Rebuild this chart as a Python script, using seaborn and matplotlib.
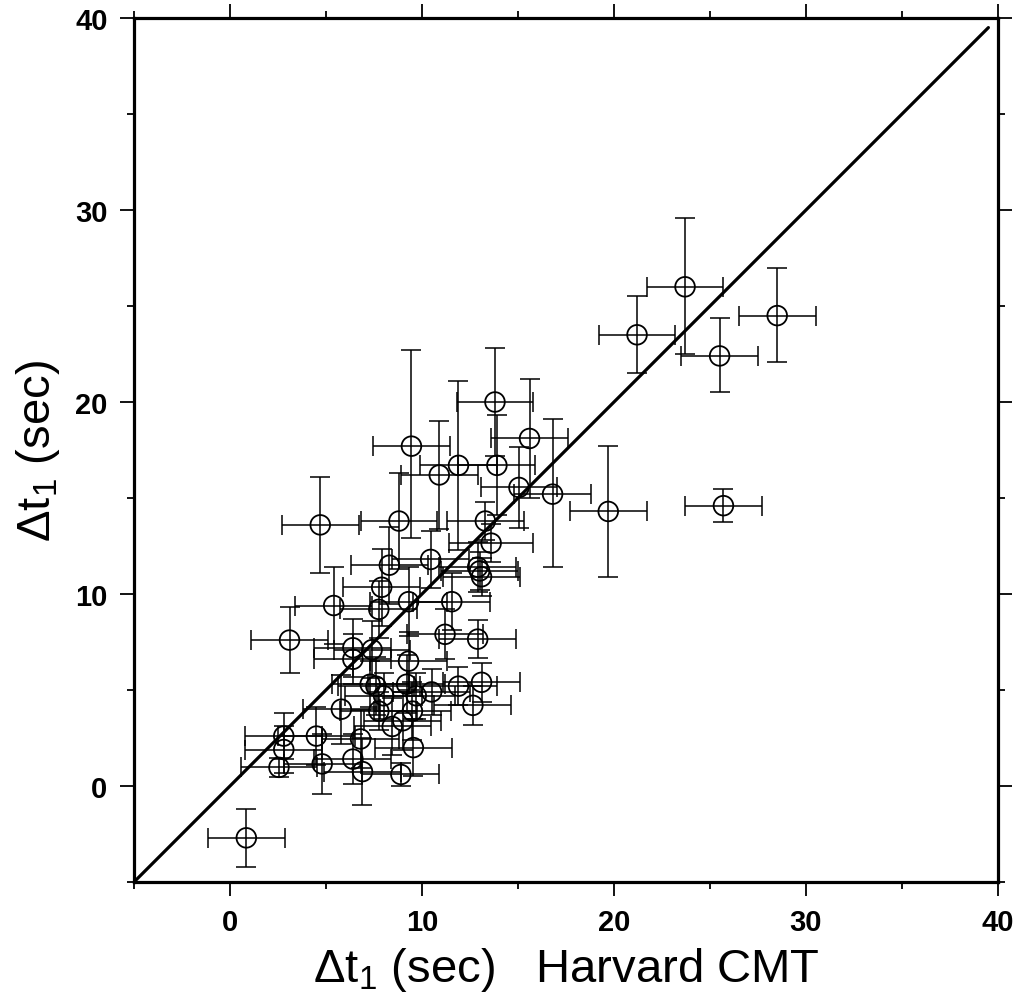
import numpy as np
import pandas as pd
import matplotlib
matplotlib.use("Agg")
import matplotlib.pyplot as plt
import seaborn as sns
from matplotlib.ticker import MultipleLocator

# ---- data ----
x_cmt = [23.7, 21.2, 25.5, 28.5, 25.7, 19.7, 16.8,
         13.8, 9.45, 15.6, 11.9, 13.9, 10.9, 4.7, 8.8, 15.05, 13.3, 13.6,
         10.45, 8.3, 12.9, 5.4, 3.1, 6.4, 6.4, 5.8, 7.4, 7.3, 13.0, 13.1,
         7.9, 11.55, 9.3, 7.75, 11.2, 12.9, 9.3, 11.9, 13.1, 12.65, 9.2,
         7.6, 9.7, 8.0, 7.75, 9.5, 10.5, 0.85, 2.8, 2.8, 2.55, 4.5, 4.8,
         6.4, 6.8, 6.9, 9.55, 8.9, 8.45, 9.0]
y_dt1 = [26.0, 23.5, 22.4, 24.5, 14.6, 14.3, 15.2,
         20.0, 17.7, 18.1, 16.7, 16.7, 16.2, 13.6, 13.8, 15.55, 13.8, 12.65,
         11.8, 11.5, 11.4, 9.4, 7.6, 7.2, 6.6, 4.0, 7.1, 5.3, 11.2, 10.9,
         10.35, 9.6, 9.6, 9.2, 7.9, 7.65, 6.5, 5.2, 5.4, 4.2, 5.3,
         5.2, 4.7, 4.7, 3.9, 3.9, 4.9, -2.7, 2.6, 1.9, 0.97, 2.6, 1.15,
         1.4, 2.45, 0.75, 2.0, 0.6, 3.1, 3.4]
x_err = [2.0, 2.0, 2.0, 2.0, 2.0, 2.0, 2.0,
         2.0, 2.0, 2.0, 2.0, 2.0, 2.0, 2.0, 2.0, 2.0, 2.0, 2.2,
         2.0, 2.0, 2.0, 2.0, 2.0, 2.0, 2.0, 2.0, 2.0, 2.0, 2.0, 2.0,
         2.0, 2.0, 2.0, 2.0, 2.0, 2.0, 2.0, 2.0, 2.0, 2.0, 2.0,
         2.0, 2.0, 2.0, 2.0, 2.0, 2.0, 2.0, 2.0, 2.0, 2.0, 2.0, 2.0,
         2.0, 2.0, 2.0, 2.0, 2.0, 2.0, 2.0]
y_err_lo = [3.5, 2.0, 1.9, 2.4, 0.85, 3.4, 3.8,
            2.8, 4.8, 3.1, 4.4, 2.6, 2.8, 2.5, 2.5, 2.1, 1.0, 1.0,
            1.5, 2.0, 1.3, 2.0, 1.7, 1.5, 1.3, 1.8, 1.5, 1.2, 1.0, 1.0,
            2.0, 1.5, 1.8, 1.5, 1.3, 1.0, 1.5, 1.0, 1.0, 1.0, 1.5,
            1.5, 1.2, 1.2, 1.0, 1.5, 1.2, 1.5, 1.2, 1.2, 0.5, 1.5, 1.55,
            1.3, 1.5, 1.75, 1.5, 0.6, 1.5, 1.5]
y_err_hi = [3.6, 2.0, 2.0, 2.5, 0.85, 3.4, 3.9,
            2.8, 5.0, 3.1, 4.4, 2.6, 2.8, 2.5, 2.5, 2.1, 1.0, 1.0,
            1.5, 2.0, 1.3, 2.0, 1.7, 1.5, 1.3, 1.8, 1.5, 1.2, 1.0, 1.0,
            2.0, 1.5, 1.8, 1.5, 1.3, 1.0, 1.5, 1.0, 1.0, 1.0, 1.5,
            1.5, 1.2, 1.2, 1.0, 1.5, 1.2, 1.5, 1.2, 1.2, 0.5, 1.5, 1.55,
            1.3, 1.5, 1.75, 1.5, 0.6, 1.5, 1.5]
line_xy = [-5, 39.5]
tick_values = [0, 10, 20, 30, 40]

sns.set_theme(style="ticks")
plt.rcParams["font.family"] = ["Liberation Sans", "DejaVu Sans"]
plt.rcParams["mathtext.fontset"] = "custom"
plt.rcParams["mathtext.rm"] = "Liberation Sans"
plt.rcParams["mathtext.it"] = "Liberation Sans"
for key in ["text.color", "axes.labelcolor", "xtick.color", "ytick.color",
            "axes.edgecolor"]:
    plt.rcParams[key] = "black"

df = pd.DataFrame({"x": x_cmt, "y": y_dt1})

fig = plt.figure(figsize=(10.23, 10.04), dpi=100)
ax = fig.add_axes([134/1023, 1 - 883/1004, 864/1023, 864/1004])

ax.errorbar(x_cmt, y_dt1, xerr=x_err, yerr=[y_err_lo, y_err_hi], fmt="none",
            ecolor="black", elinewidth=1.1, capsize=7, capthick=1.1, zorder=2)
sns.scatterplot(data=df, x="x", y="y", ax=ax, marker="o", s=200,
                facecolors="none", edgecolor="black", linewidth=1.3, zorder=3)
sns.lineplot(x=line_xy, y=line_xy, ax=ax, color="black", linewidth=2.3, zorder=4)

ax.set_xlim(-5, 40)
ax.set_ylim(-5, 40)
ax.set_xticks(tick_values)
ax.set_yticks(tick_values)
ax.xaxis.set_minor_locator(MultipleLocator(5))
ax.yaxis.set_minor_locator(MultipleLocator(5))
ax.tick_params(which="both", direction="out", top=True, right=True,
               labeltop=False, labelright=False, color="black", width=1.3,
               labelcolor="black")
ax.tick_params(which="major", length=10, labelsize=21, pad=9)
ax.tick_params(which="minor", length=5)
for lab in ax.get_xticklabels() + ax.get_yticklabels():
    lab.set_fontweight("bold")
for sp in ax.spines.values():
    sp.set_linewidth(2.3)
    sp.set_color("black")

ax.set_xlabel("Δt$_1$ (sec)   Harvard CMT", fontsize=34, labelpad=6, color="black")
ax.set_ylabel("Δt$_1$ (sec)", fontsize=34, color="black")
ax.yaxis.set_label_coords(-0.083, 0.5)
ax.grid(False)

fig.savefig("out.png", dpi=100)
